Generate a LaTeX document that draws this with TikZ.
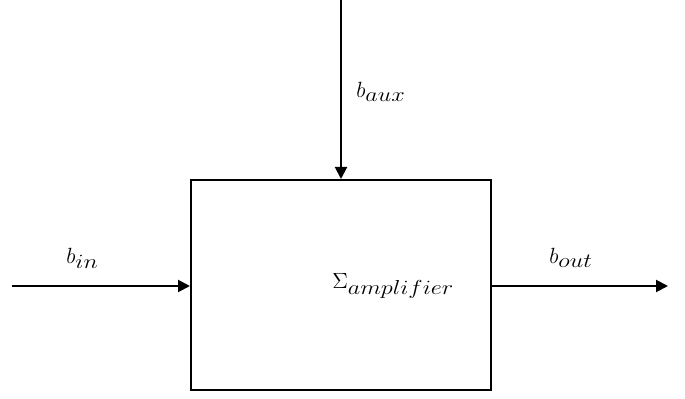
\RequirePackage{fix-cm}
\documentclass[tikz,border=0pt]{standalone}
\usepackage{graphicx}
\usetikzlibrary{arrows.meta}
\newcommand{\wsub}[1]{\scalebox{1.1}[0.92]{$\textstyle #1$}}
\begin{document}
\begin{tikzpicture}[x=0.75pt,y=-0.75pt,
  conn/.style={line width=1.5pt,-{Triangle[length=9pt,width=9pt]}},
  lbl/.style={inner sep=0pt,anchor=base west,font=\fontsize{16.5}{20}\selectfont},
  blk/.style={draw,line width=1.5pt,minimum width=225pt,minimum height=157.5pt,inner sep=0pt}]
\useasboundingbox (0,0) rectangle (685,399);
\node[blk] (amp) at (341,285) {};
\coordinate (top) at (341,0);
\coordinate (inp) at (12,286);
\coordinate (outp) at (668,286);
\draw[conn] (top) -- (amp.north);
\draw[conn] (inp) -- (inp -| amp.west);
\draw[conn] (outp -| amp.east) -- (outp);
\node[lbl] (laux) at (356,98) {$b_{\wsub{aux}}$};
\node[lbl] (lin) at (66,263) {$b_{\wsub{in}}$};
\node[lbl] (lout) at (549,263) {$b_{\wsub{out}}$};
\node[lbl] (lsig) at (332,288) {$\Sigma_{\wsub{amplifier}}$};
\end{tikzpicture}
\end{document}
